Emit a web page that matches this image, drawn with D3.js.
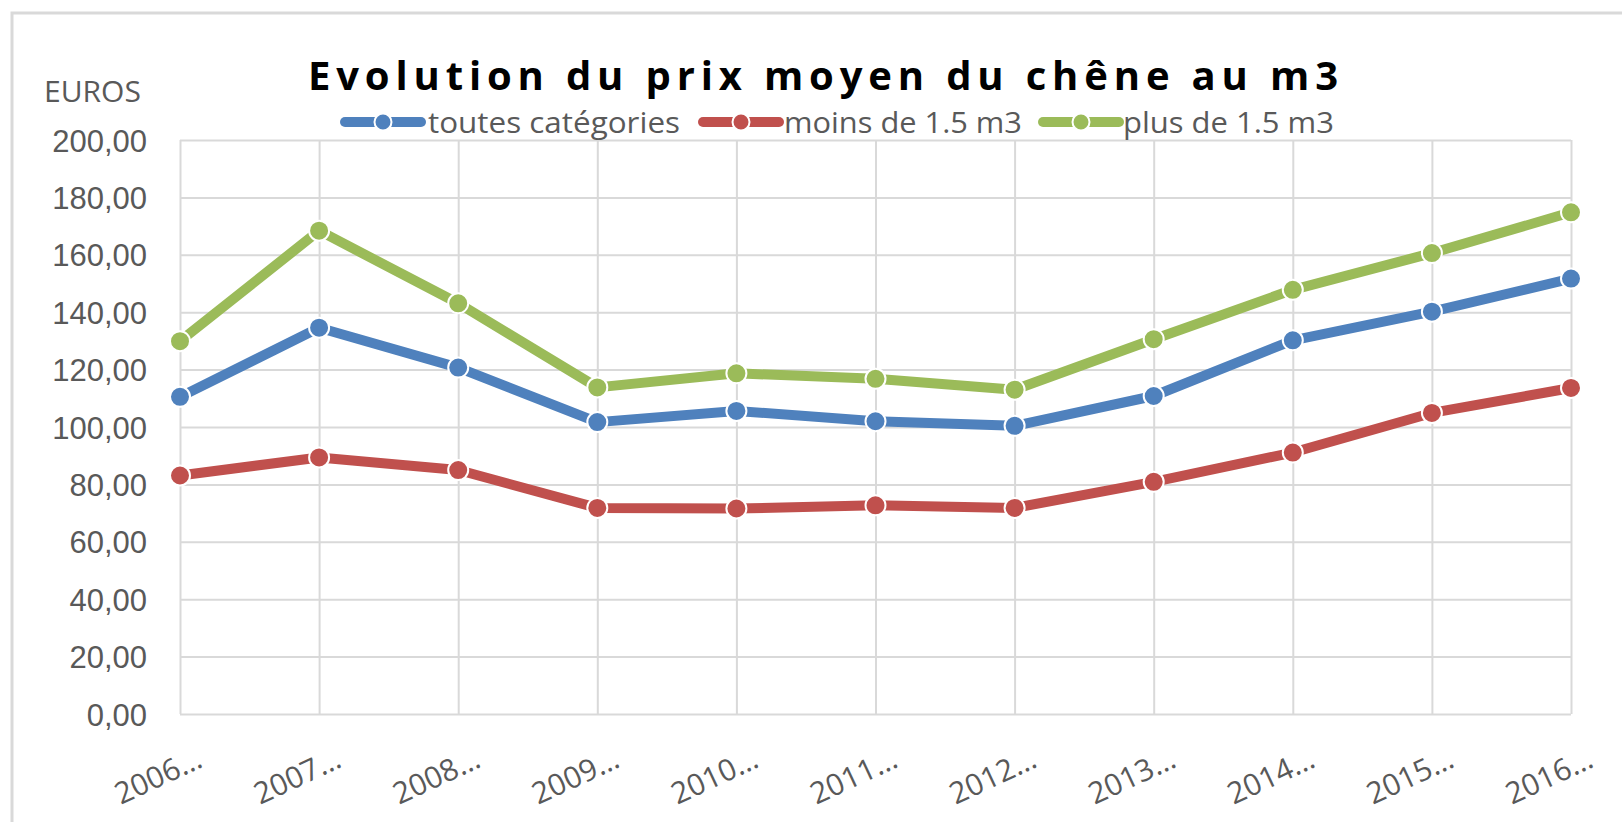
<!DOCTYPE html>
<html>
<head>
<meta charset="utf-8">
<script src="https://cdn.jsdelivr.net/npm/d3@7"></script>
<style>
	body { margin: 0; background: #fff; }
	svg { display: block; }
</style>
</head>
<body>
<div id="chart"></div>
<script>
/* global d3 */

const categories = ['2006…', '2007…', '2008…', '2009…', '2010…', '2011…', '2012…', '2013…', '2014…', '2015…', '2016…'];

const toutes = [110.5, 134.6, 120.7, 101.7, 105.6, 102.0, 100.4, 110.8, 130.2, 140.2, 151.7];
const moins = [83.1, 89.4, 85.0, 71.8, 71.6, 72.7, 71.8, 80.9, 91.1, 104.9, 113.6];
const plus = [129.9, 168.4, 143.1, 113.8, 118.7, 116.8, 113.0, 130.6, 147.8, 160.6, 174.8];

const yTicks = [0, 20, 40, 60, 80, 100, 120, 140, 160, 180, 200];

const seriesNames = ['toutes catégories', 'moins de 1.5 m3', 'plus de 1.5 m3'];
const seriesColors = ['#4f81bd', '#c0504d', '#9bbb59'];

const width = 1622;
const height = 822;

const plot = {
	left: 180,
	right: 1571,
	top: 140,
	bottom: 714,
};

const svg = d3.select('#chart').append('svg')
	.attr('width', width)
	.attr('height', height)
	.style('font-family', '"Open Sans", sans-serif');

// outer chart frame
svg.append('rect')
	.attr('x', 12)
	.attr('y', 13)
	.attr('width', 1680)
	.attr('height', 900)
	.attr('fill', 'none')
	.attr('stroke', '#d9d9d9')
	.attr('stroke-width', 3);

const x = d3.scalePoint()
	.domain(categories)
	.range([plot.left, plot.right]);

const y = d3.scaleLinear()
	.domain([0, 200])
	.range([plot.bottom, plot.top]);

// horizontal grid + y labels
const yAxis = d3.axisLeft(y)
	.tickValues(yTicks)
	.tickSize(-(plot.right - plot.left))
	.tickPadding(33)
	.tickFormat(d => d.toFixed(2).replace('.', ','));

const yG = svg.append('g')
	.attr('transform', `translate(${plot.left},0)`)
	.call(yAxis);

yG.select('.domain').remove();
yG.selectAll('line')
	.attr('stroke', '#d9d9d9')
	.attr('stroke-width', 2);
yG.selectAll('text')
	.attr('fill', '#595959')
	.style('font-size', '31px')
	.attr('dy', '0.36em');

// vertical grid + x labels
const xAxis = d3.axisBottom(x)
	.tickSize(-(plot.bottom - plot.top))
	.tickFormat('');

const xG = svg.append('g')
	.attr('transform', `translate(0,${plot.bottom})`)
	.call(xAxis);

xG.select('.domain').remove();
xG.selectAll('line')
	.attr('stroke', '#d9d9d9')
	.attr('stroke-width', 2);

svg.append('g')
	.selectAll('text')
	.data(categories)
	.enter().append('text')
	.attr('transform', d => `translate(${x(d) - 22},${plot.bottom + 62}) rotate(-25)`)
	.attr('text-anchor', 'middle')
	.attr('dy', '0.35em')
	.attr('fill', '#595959')
	.style('font-size', '30px')
	.text(d => d);

// lines
const series = [toutes, moins, plus];

const line = d3.line()
	.x((d, i) => x(categories[i]))
	.y(d => y(d));

series.forEach((values, s) => {
	svg.append('path')
		.datum(values)
		.attr('fill', 'none')
		.attr('stroke', seriesColors[s])
		.attr('stroke-width', 10)
		.attr('stroke-linejoin', 'round')
		.attr('d', line);

	svg.append('g')
		.selectAll('circle')
		.data(values)
		.enter().append('circle')
		.attr('cx', (d, i) => x(categories[i]))
		.attr('cy', d => y(d))
		.attr('r', 10)
		.attr('fill', seriesColors[s])
		.attr('stroke', '#fff')
		.attr('stroke-width', 2);
});

// title
svg.append('text')
	.attr('x', 308)
	.attr('y', 90)
	.attr('textLength', 1030)
	.attr('lengthAdjust', 'spacing')
	.attr('fill', '#000')
	.style('font-size', '40px')
	.style('font-weight', 'bold')
	.text('Evolution du prix moyen du chêne au m3');

// y unit
svg.append('text')
	.attr('x', 44)
	.attr('y', 102)
	.attr('fill', '#595959')
	.style('font-size', '30px')
	.text('EUROS');

// legend
const legendItems = [
	{symbolX: 345, textX: 428, textLen: 252},
	{symbolX: 703, textX: 784, textLen: 238},
	{symbolX: 1043, textX: 1123, textLen: 211},
];
const legendY = 122;

const legend = svg.append('g');

legendItems.forEach((item, i) => {
	legend.append('line')
		.attr('x1', item.symbolX)
		.attr('x2', item.symbolX + 76)
		.attr('y1', legendY)
		.attr('y2', legendY)
		.attr('stroke', seriesColors[i])
		.attr('stroke-width', 10)
		.attr('stroke-linecap', 'round');

	legend.append('circle')
		.attr('cx', item.symbolX + 38)
		.attr('cy', legendY)
		.attr('r', 8.5)
		.attr('fill', seriesColors[i])
		.attr('stroke', '#fff')
		.attr('stroke-width', 2);

	legend.append('text')
		.attr('x', item.textX)
		.attr('y', legendY)
		.attr('dy', '0.36em')
		.attr('textLength', item.textLen)
		.attr('lengthAdjust', 'spacingAndGlyphs')
		.attr('fill', '#595959')
		.style('font-size', '30px')
		.text(seriesNames[i]);
});
</script>
</body>
</html>
